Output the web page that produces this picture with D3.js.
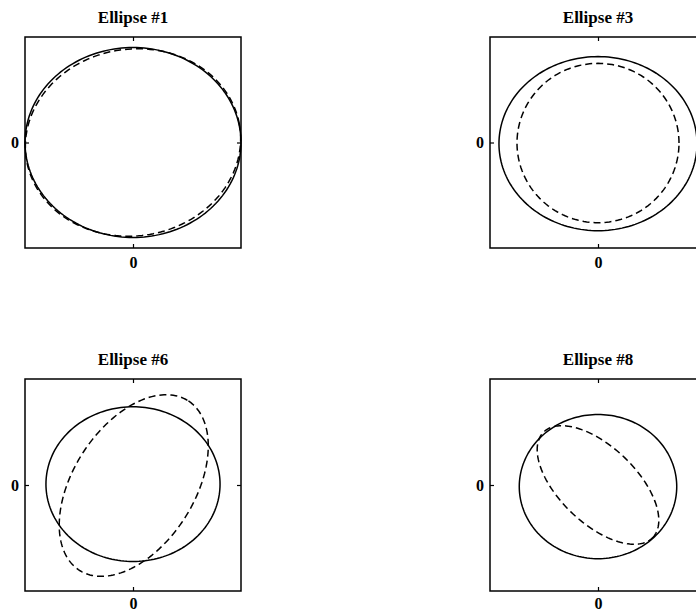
<!DOCTYPE html>
<html>
<head>
<meta charset="utf-8">
<script src="https://cdn.jsdelivr.net/npm/d3@7"></script>
<style>
  body { margin: 0; background: #fff; }
  svg { display: block; }
  .tick text { font-family: "Liberation Serif", "Times New Roman", serif; font-weight: bold; font-size: 16px; fill: #000; }
  .title { font-family: "Liberation Serif", "Times New Roman", serif; font-weight: bold; font-size: 17px; }
</style>
</head>
<body>
<script>
  //-----------------------------DATA------------------------------//
  const titles = ["Ellipse #1", "Ellipse #3", "Ellipse #6", "Ellipse #8"];
  const xTicks = [0];
  const yTicks = [0];
  // each ellipse: [cx, cy, semi-axis a, semi-axis b, rotation in degrees]
  const solidEllipses = [
    [0, 0, 1.0, 0.9, 0],
    [0, -0.011, 0.917, 0.825, 0],
    [0, 0.008, 0.806, 0.73, 0],
    [0, -0.015, 0.729, 0.68, 0]
  ];
  const dashedEllipses = [
    [0, 0, 1.0, 0.885, 10],
    [0, -0.005, 0.75, 0.755, 0],
    [0.007, -0.005, 0.945, 0.563, 58.3],
    [0, 0, 0.709, 0.357, -44.7]
  ];

  //-----------------------------LAYOUT----------------------------//
  const W = 696, H = 614;
  const panelW = 216;
  const lefts = [25, 490];
  const tops = [37, 379];
  const heights = [211, 212];
  const labelPad = [9, 7];

  const svg = d3.select("body").append("svg")
    .attr("width", W)
    .attr("height", H);

  // sample an ellipse outline from its parameters
  function outline(e) {
    const [cx, cy, a, b, deg] = e;
    const r = deg * Math.PI / 180;
    return d3.range(0, 361, 2).map(function (t) {
      const u = t * Math.PI / 180;
      const px = a * Math.cos(u), py = b * Math.sin(u);
      return [cx + px * Math.cos(r) - py * Math.sin(r), cy + px * Math.sin(r) + py * Math.cos(r)];
    });
  }

  titles.forEach(function (title, i) {
    const col = i % 2, row = Math.floor(i / 2);
    const h = heights[row];
    const g = svg.append("g")
      .attr("transform", "translate(" + lefts[col] + "," + tops[row] + ")");

    const x = d3.scaleLinear().domain([-1, 1]).range([0, panelW]);
    const y = d3.scaleLinear().domain([-1, 1]).range([h, 0]);

    const line = d3.line()
      .x(function (d) { return x(d[0]); })
      .y(function (d) { return y(d[1]); });

    // axes: inward ticks, labels on bottom and left only
    g.append("g")
      .attr("transform", "translate(0," + h + ")")
      .call(d3.axisBottom(x).tickValues(xTicks).tickSizeInner(-4).tickSizeOuter(0).tickPadding(labelPad[row]).tickFormat(d3.format("d")));
    g.append("g")
      .call(d3.axisLeft(y).tickValues(yTicks).tickSizeInner(-4).tickSizeOuter(0).tickPadding(6).tickFormat(d3.format("d")));
    g.append("g")
      .call(d3.axisTop(x).tickValues(xTicks).tickSizeInner(-4).tickSizeOuter(0).tickFormat(""));
    g.append("g")
      .attr("transform", "translate(" + panelW + ",0)")
      .call(d3.axisRight(y).tickValues(yTicks).tickSizeInner(-4).tickSizeOuter(0).tickFormat(""));
    g.selectAll(".domain").remove();
    g.selectAll(".tick line").attr("stroke", "#000").attr("stroke-width", 1.2);

    g.append("rect")
      .attr("width", panelW)
      .attr("height", h)
      .attr("fill", "none")
      .attr("stroke", "#000")
      .attr("stroke-width", 1.5);

    g.append("path")
      .attr("d", line(outline(solidEllipses[i])))
      .attr("fill", "none")
      .attr("stroke", "#000")
      .attr("stroke-width", 1.5);

    g.append("path")
      .attr("d", line(outline(dashedEllipses[i])))
      .attr("fill", "none")
      .attr("stroke", "#000")
      .attr("stroke-width", 1.5)
      .attr("stroke-dasharray", "7,4");

    svg.append("text")
      .attr("class", "title")
      .attr("x", lefts[col] + panelW / 2)
      .attr("y", tops[row] - 14)
      .attr("text-anchor", "middle")
      .text(title);
  });
</script>
</body>
</html>
